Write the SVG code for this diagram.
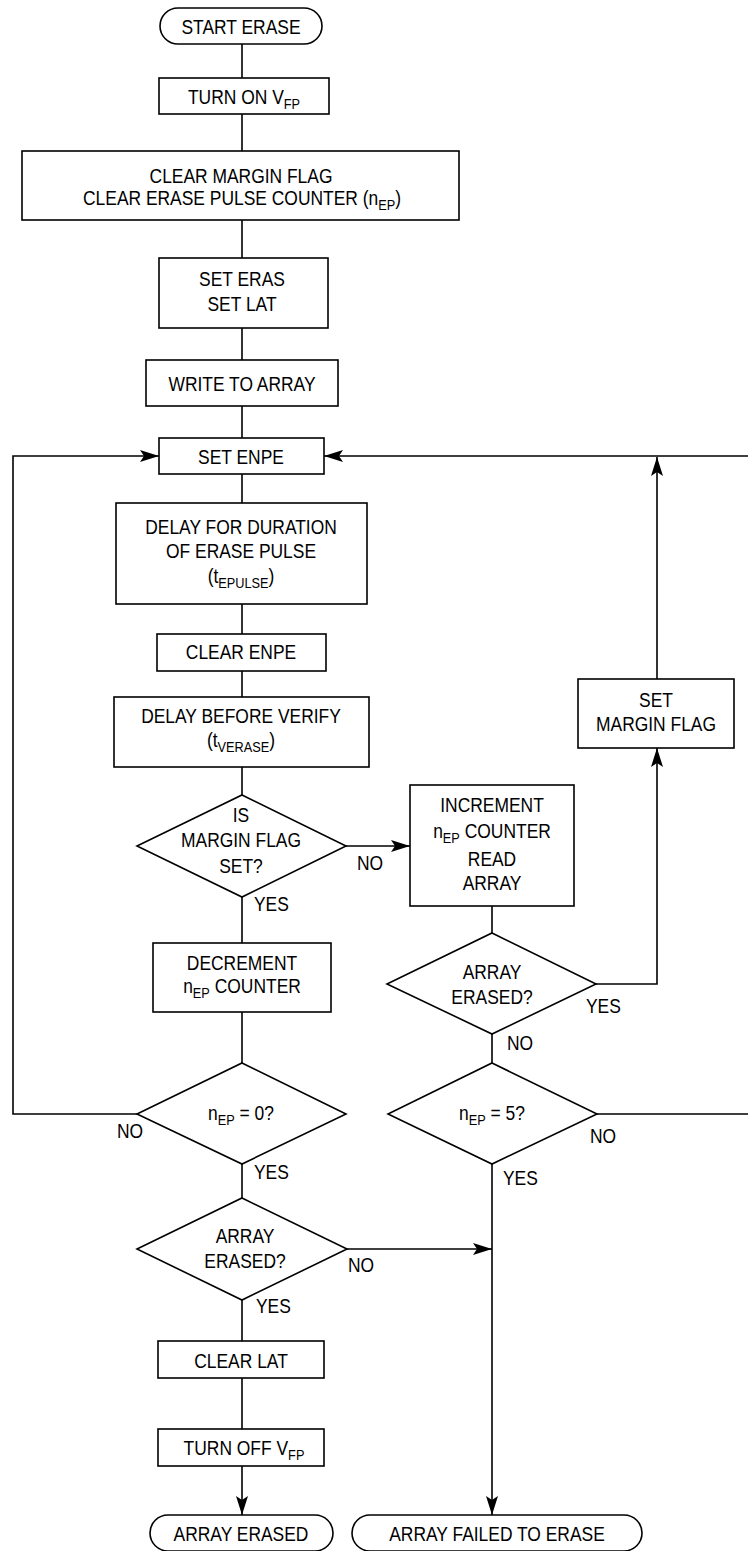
<svg xmlns="http://www.w3.org/2000/svg" width="748" height="1551" viewBox="0 0 748 1551">
<style>
.s{fill:#fff;stroke:#000;stroke-width:1.6}
.c{fill:none;stroke:#000;stroke-width:1.6}
text{font-family:"Liberation Sans",Arial,sans-serif;font-size:20.5px;fill:#000;text-anchor:middle}
.l{text-anchor:start}
.sub{font-size:15px}
</style>
<defs>
<marker id="ah" viewBox="0 0 19 12" refX="19" refY="6" markerWidth="19" markerHeight="12" markerUnits="userSpaceOnUse" orient="auto">
<path d="M0,0 L19,6 L0,12 L4,6 Z" fill="#000"/>
</marker>
</defs>
<rect width="748" height="1551" fill="#fff"/>
<g id="connectors">
<path class="c" d="M242,44V78M242,114V151M242,220V258M242,328V360M242,406V438M242,474V503M242,604V634M242,671V697M242,767V795M242,897V943M242,1012V1063M242,1164V1198M242,1300V1341M242,1378V1429"/>
<path class="c" d="M242,1466V1515" marker-end="url(#ah)"/>
<path class="c" d="M137,1114H13V456H159" marker-end="url(#ah)"/>
<path class="c" d="M597,1114H749V456H324" marker-end="url(#ah)"/>
<path class="c" d="M657,679V457" marker-end="url(#ah)"/>
<path class="c" d="M596,984H657V748" marker-end="url(#ah)"/>
<path class="c" d="M346,846H410" marker-end="url(#ah)"/>
<path class="c" d="M492,906V933M492,1034V1063"/>
<path class="c" d="M492,1164V1515" marker-end="url(#ah)"/>
<path class="c" d="M347,1249H492" marker-end="url(#ah)"/>
</g>
<g id="start"><rect class="s" x="160" y="8" width="162" height="36" rx="18"/><text transform="translate(241,34) scale(0.85,1)">START ERASE</text></g>
<g id="turnon"><rect class="s" x="159" y="78" width="170" height="36"/><text transform="translate(244,104) scale(0.85,1)">TURN ON V<tspan class="sub" dy="5">FP</tspan></text></g>
<g id="clearmargin"><rect class="s" x="22" y="151" width="437" height="69"/><text transform="translate(241,183) scale(0.85,1)">CLEAR MARGIN FLAG</text><text transform="translate(242,205) scale(0.85,1)">CLEAR ERASE PULSE COUNTER (n<tspan class="sub" dy="5">EP</tspan><tspan dy="-5">)</tspan></text></g>
<g id="seteras"><rect class="s" x="159" y="258" width="169" height="70"/><text transform="translate(242,286) scale(0.85,1)">SET ERAS</text><text transform="translate(242,311) scale(0.85,1)">SET LAT</text></g>
<g id="write"><rect class="s" x="146" y="360" width="192" height="46"/><text transform="translate(242,391) scale(0.85,1)">WRITE TO ARRAY</text></g>
<g id="setenpe"><rect class="s" x="159" y="438" width="165" height="36"/><text transform="translate(241,464) scale(0.85,1)">SET ENPE</text></g>
<g id="delaypulse"><rect class="s" x="116" y="503" width="251" height="101"/><text transform="translate(241,534) scale(0.85,1)">DELAY FOR DURATION</text><text transform="translate(241,558) scale(0.85,1)">OF ERASE PULSE</text><text transform="translate(241,583) scale(0.85,1)">(t<tspan class="sub" dy="5">EPULSE</tspan><tspan dy="-5">)</tspan></text></g>
<g id="clearenpe"><rect class="s" x="157" y="634" width="169" height="37"/><text transform="translate(241,659) scale(0.85,1)">CLEAR ENPE</text></g>
<g id="delayverify"><rect class="s" x="114" y="697" width="255" height="70"/><text transform="translate(241,723) scale(0.85,1)">DELAY BEFORE VERIFY</text><text transform="translate(241,747) scale(0.85,1)">(t<tspan class="sub" dy="5">VERASE</tspan><tspan dy="-5">)</tspan></text></g>
<g id="ismargin"><path class="s" d="M242,795L346,846L242,897L137,846Z"/><text transform="translate(241,822) scale(0.85,1)">IS</text><text transform="translate(241,847) scale(0.85,1)">MARGIN FLAG</text><text transform="translate(241,873) scale(0.85,1)">SET?</text><text class="l" transform="translate(357,870) scale(0.85,1)">NO</text><text class="l" transform="translate(254,911) scale(0.85,1)">YES</text></g>
<g id="increment"><rect class="s" x="410" y="785" width="164" height="121"/><text transform="translate(492,812) scale(0.85,1)">INCREMENT</text><text transform="translate(492,838) scale(0.85,1)">n<tspan class="sub" dy="5">EP</tspan><tspan dy="-5"> COUNTER</tspan></text><text transform="translate(492,866) scale(0.85,1)">READ</text><text transform="translate(492,890) scale(0.85,1)">ARRAY</text></g>
<g id="setmargin"><rect class="s" x="578" y="679" width="156" height="69"/><text transform="translate(656,707) scale(0.85,1)">SET</text><text transform="translate(656,731) scale(0.85,1)">MARGIN FLAG</text></g>
<g id="decrement"><rect class="s" x="153" y="943" width="178" height="69"/><text transform="translate(242,970) scale(0.85,1)">DECREMENT</text><text transform="translate(242,993) scale(0.85,1)">n<tspan class="sub" dy="5">EP</tspan><tspan dy="-5"> COUNTER</tspan></text></g>
<g id="erased1"><path class="s" d="M492,933L596,984L492,1034L387,984Z"/><text transform="translate(492,979) scale(0.85,1)">ARRAY</text><text transform="translate(492,1004) scale(0.85,1)">ERASED?</text><text class="l" transform="translate(586,1013) scale(0.85,1)">YES</text><text class="l" transform="translate(507,1050) scale(0.85,1)">NO</text></g>
<g id="nep0"><path class="s" d="M242,1063L346,1114L242,1164L137,1114Z"/><text transform="translate(241,1120) scale(0.85,1)">n<tspan class="sub" dy="5">EP</tspan><tspan dy="-5"> = 0?</tspan></text><text class="l" transform="translate(117,1138) scale(0.85,1)">NO</text><text class="l" transform="translate(254,1179) scale(0.85,1)">YES</text></g>
<g id="nep5"><path class="s" d="M492,1063L597,1114L492,1164L388,1114Z"/><text transform="translate(492,1120) scale(0.85,1)">n<tspan class="sub" dy="5">EP</tspan><tspan dy="-5"> = 5?</tspan></text><text class="l" transform="translate(590,1143) scale(0.85,1)">NO</text><text class="l" transform="translate(503,1185) scale(0.85,1)">YES</text></g>
<g id="erased2"><path class="s" d="M242,1198L347,1249L242,1300L137,1249Z"/><text transform="translate(245,1243) scale(0.85,1)">ARRAY</text><text transform="translate(245,1268) scale(0.85,1)">ERASED?</text><text class="l" transform="translate(348,1272) scale(0.85,1)">NO</text><text class="l" transform="translate(256,1313) scale(0.85,1)">YES</text></g>
<g id="clearlat"><rect class="s" x="158" y="1341" width="166" height="37"/><text transform="translate(241,1368) scale(0.85,1)">CLEAR LAT</text></g>
<g id="turnoff"><rect class="s" x="158" y="1429" width="166" height="37"/><text transform="translate(244,1455) scale(0.85,1)">TURN OFF V<tspan class="sub" dy="5">FP</tspan></text></g>
<g id="arrayerased"><rect class="s" x="150" y="1515" width="183" height="36" rx="18"/><text transform="translate(241,1541) scale(0.85,1)">ARRAY ERASED</text></g>
<g id="arrayfailed"><rect class="s" x="352" y="1515" width="290" height="36" rx="18"/><text transform="translate(497,1541) scale(0.85,1)">ARRAY FAILED TO ERASE</text></g>
</svg>
